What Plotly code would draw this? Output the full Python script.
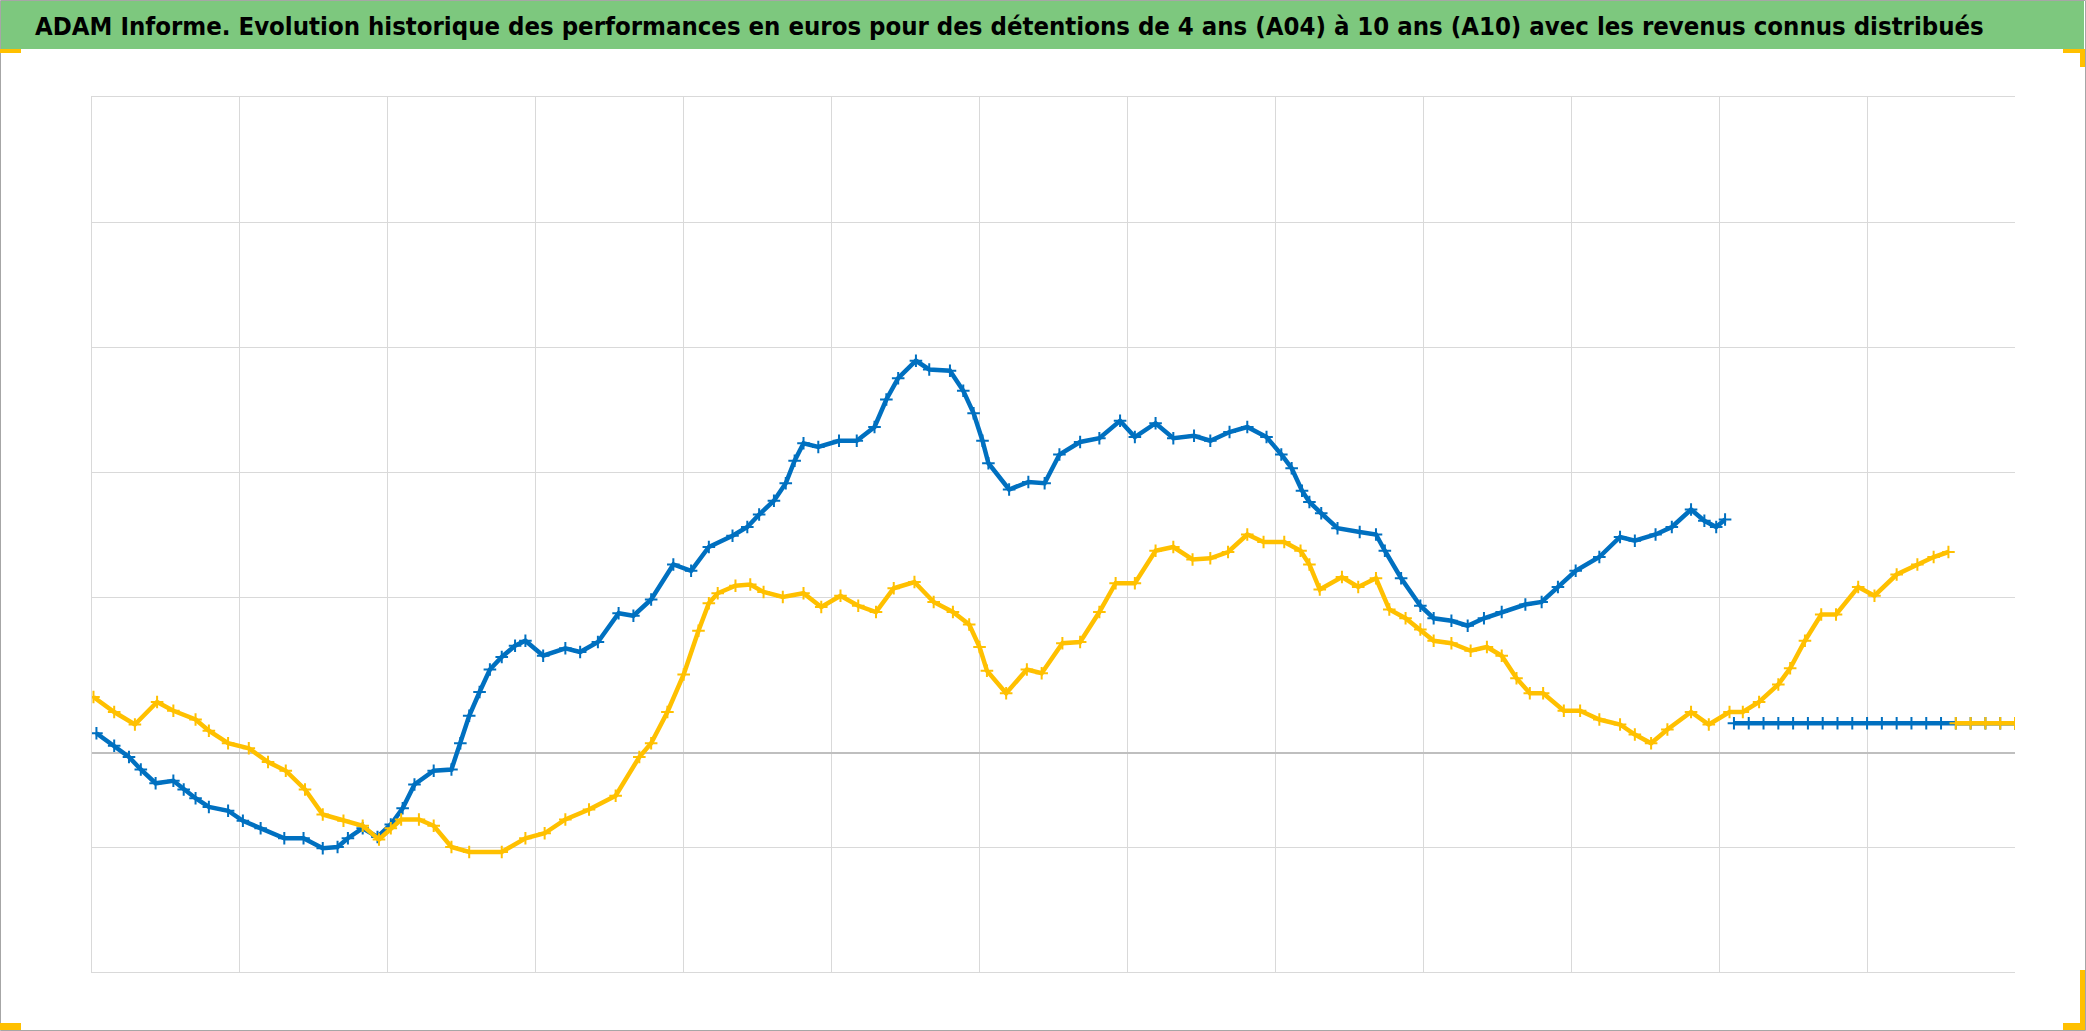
import plotly.graph_objects as go

# ---------------- data ----------------
# x: position along the time axis (one unit = one vertical gridline interval)
# y: performance in euros (one gridline step = 100)
a04_x = [0.03, 0.15, 0.25, 0.33, 0.43, 0.55, 0.62, 0.70, 0.79, 0.92, 1.02, 1.14, 1.30, 1.43, 1.56,
         1.66, 1.73, 1.83, 1.93, 2.02, 2.10, 2.18, 2.31, 2.43, 2.49, 2.55, 2.62, 2.69, 2.77, 2.86,
         2.93, 3.05, 3.20, 3.30, 3.42, 3.56, 3.66, 3.78, 3.93, 4.05, 4.17, 4.33, 4.43, 4.51, 4.61,
         4.69, 4.75, 4.81, 4.91, 5.05, 5.17, 5.29, 5.37, 5.45, 5.57, 5.66, 5.80, 5.89, 5.96, 6.02,
         6.06, 6.20, 6.33, 6.44, 6.54, 6.68, 6.81, 6.95, 7.05, 7.19, 7.31, 7.45, 7.56, 7.69, 7.81,
         7.94, 8.04, 8.11, 8.18, 8.23, 8.31, 8.42, 8.57, 8.68, 8.74, 8.85, 8.98, 9.07, 9.19, 9.30,
         9.41, 9.53, 9.69, 9.80, 9.91, 10.03, 10.19, 10.33, 10.43, 10.57, 10.68, 10.81, 10.90, 10.98,
         11.04]
a04_y = [16, 6, -3, -13, -24, -22, -29, -36, -43, -46, -54, -60, -68, -68, -76,
         -75, -68, -60, -67, -57, -44, -25, -14, -13, 8, 30, 49, 67, 77, 86,
         90, 78, 84, 81, 89, 112, 110, 123, 151, 146, 165, 174, 181, 191, 202,
         216, 234, 248, 245, 250, 250, 261, 283, 300, 314, 307, 306, 290, 272, 250,
         232, 211, 217, 216, 239, 249, 252, 266, 253, 264, 252, 254, 250, 257, 261,
         253, 239, 228, 210, 201, 192, 180, 177, 175, 162, 140, 118, 108, 106, 102,
         108, 113, 119, 121, 133, 146, 157, 173, 170, 175, 181, 195, 186, 181,
         187]
a04_flat_x = [11.1, 11.2, 11.3, 11.4, 11.5, 11.6, 11.7, 11.8, 11.9, 12.0, 12.1, 12.2, 12.3,
              12.4, 12.5, 12.6, 12.7, 12.8, 12.9, 13.0]
a04_flat_y = [24] * len(a04_flat_x)

a10_x = [0.01, 0.15, 0.29, 0.44, 0.55, 0.70, 0.79, 0.92, 1.06, 1.19, 1.31, 1.44, 1.56, 1.70, 1.83,
         1.94, 2.02, 2.09, 2.21, 2.31, 2.43, 2.55, 2.77, 2.93, 3.06, 3.20, 3.36, 3.54, 3.70, 3.78,
         3.89, 4.00, 4.10, 4.17, 4.23, 4.35, 4.45, 4.54, 4.67, 4.81, 4.93, 5.06, 5.18, 5.30, 5.42,
         5.56, 5.69, 5.82, 5.93, 6.00, 6.05, 6.18, 6.32, 6.42, 6.56, 6.68, 6.81, 6.92, 7.05, 7.19,
         7.31, 7.44, 7.56, 7.68, 7.81, 7.92, 8.06, 8.17, 8.23, 8.30, 8.45, 8.56, 8.68, 8.77, 8.88,
         8.98, 9.07, 9.19, 9.32, 9.43, 9.53, 9.63, 9.72, 9.81, 9.95, 10.06, 10.19, 10.33, 10.43,
         10.54, 10.65, 10.81, 10.93, 11.07, 11.16, 11.27, 11.40, 11.48, 11.58, 11.69, 11.79, 11.94,
         12.05, 12.20, 12.34, 12.45, 12.55]
a10_y = [45, 33, 23, 41, 34, 27, 18, 8, 4, -7, -14, -29, -49, -54, -58,
         -69, -60, -53, -53, -58, -75, -79, -79, -68, -64, -53, -45, -34, -3, 8,
         33, 63, 98, 120, 128, 134, 135, 129, 125, 128, 117, 126, 118, 113, 132,
         137, 121, 113, 103, 85, 66, 48, 67, 64, 88, 89, 113, 136, 136, 162,
         165, 155, 156, 161, 175, 169, 169, 162, 151, 131, 141, 133, 140, 115, 108,
         99, 90, 88, 82, 85, 78, 60, 48, 48, 34, 34, 27, 23, 15,
         8, 19, 33, 23, 33, 33, 41, 55, 68, 90, 111, 111, 133,
         126, 143, 151, 157, 161]
a10_flat_x = [12.6, 12.7, 12.8, 12.9, 13.0]
a10_flat_y = [24] * len(a10_flat_x)

x_grid = list(range(13))
y_grid = [-175, -75, 125, 225, 325, 425, 525]

TITLE = ("ADAM Informe. Evolution historique des performances en euros pour des détentions "
         "de 4 ans (A04) à 10 ans (A10) avec les revenus connus distribués")

BLUE = "#0070C0"
YELLOW = "#FFC000"
GRID = "#D9D9D9"

# ---------------- figure ----------------
W, H = 2086, 1031
L, R, T, B = 92, 71, 97, 59
PW, PH = W - L - R, H - T - B


def px(X):
    return (X - L) / PW


def py(Y):
    return (H - B - Y) / PH


fig = go.Figure()


def add_series(xs, ys, fx, fy, color, name):
    fig.add_trace(go.Scatter(
        x=xs + [None] + fx, y=ys + [None] + fy, name=name,
        mode="lines+markers", connectgaps=False,
        line=dict(color=color, width=4.5),
        marker=dict(symbol="cross-thin", size=9, line=dict(color=color, width=2), color=color),
        showlegend=False, hoverinfo="x+y",
    ))


add_series(a04_x, a04_y, a04_flat_x, a04_flat_y, BLUE, "A04")
add_series(a10_x, a10_y, a10_flat_x, a10_flat_y, YELLOW, "A10")

shapes = []
# green title band
shapes.append(dict(type="rect", xref="paper", yref="paper", layer="below",
                   x0=px(1), x1=px(2084), y0=py(49), y1=py(1),
                   fillcolor="#7DC87E", line=dict(width=0)))
# outer chart border
shapes.append(dict(type="rect", xref="paper", yref="paper", layer="above",
                   x0=px(0.5), x1=px(2085.5), y0=py(1030.5), y1=py(0.5),
                   fillcolor="rgba(0,0,0,0)", line=dict(color="#A6A6A6", width=1)))
# selection handles (yellow corner marks)
for (x0, x1, y0, y1) in [(0, 21, 49, 53), (0, 21, 1023, 1030),
                         (2063, 2085, 49, 53), (2080, 2085, 49, 67),
                         (2080, 2085, 970, 1030), (2063, 2085, 1023, 1030)]:
    shapes.append(dict(type="rect", xref="paper", yref="paper", layer="above",
                       x0=px(x0), x1=px(x1), y0=py(y1), y1=py(y0),
                       fillcolor=YELLOW, line=dict(width=0)))

fig.update_layout(
    width=W, height=H,
    margin=dict(l=L, r=R, t=T, b=B, pad=0),
    paper_bgcolor="white", plot_bgcolor="white",
    shapes=shapes,
    annotations=[dict(
        text="<b>" + TITLE + "</b>", xref="paper", yref="paper",
        x=px(33), y=py(26), xanchor="left", yanchor="middle", showarrow=False,
        font=dict(family="DejaVu Sans Condensed, sans-serif", size=25.5, color="black"),
    )],
    xaxis=dict(range=[0, 13], tickvals=x_grid, showticklabels=False, ticks="",
               showgrid=True, gridcolor=GRID, gridwidth=1.3,
               zeroline=False, showline=True, mirror=True, linecolor=GRID, linewidth=1.3),
    yaxis=dict(range=[-175, 525], tickvals=y_grid, showticklabels=False, ticks="",
               showgrid=True, gridcolor=GRID, gridwidth=1.3,
               zeroline=True, zerolinecolor="#BFBFBF", zerolinewidth=2,
               showline=True, mirror=False, linecolor=GRID, linewidth=1.3),
)

fig.write_html("out.html", config={"displayModeBar": False},
               post_script="document.body.style.margin='0';document.body.style.padding='0';")
